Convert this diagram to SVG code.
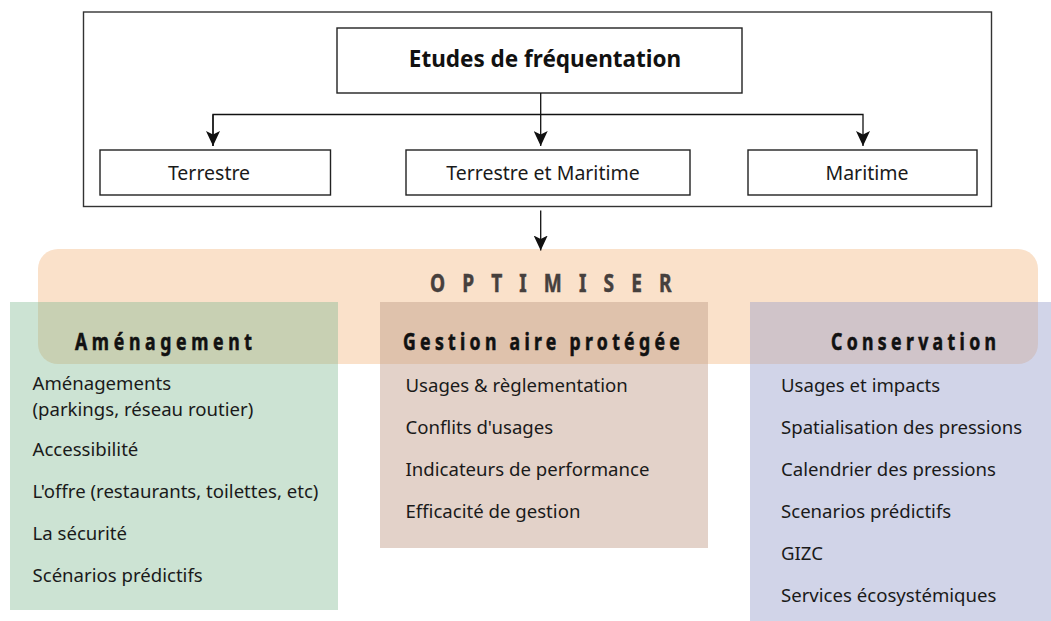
<svg xmlns="http://www.w3.org/2000/svg" width="1051" height="621" viewBox="0 0 1051 621">
  <defs>
    <style>
      .box { fill: #ffffff; stroke: #222222; stroke-width: 1.4; }
      .frame { fill: #ffffff; stroke: #333333; stroke-width: 1.4; }
      .conn { fill: none; stroke: #111111; stroke-width: 1.3; }
      .title { font-family: "Noto Sans", "Open Sans", sans-serif; font-weight: bold; font-size: 22.5px; fill: #111111; }
      .lbl { font-family: "Noto Sans", "Open Sans", sans-serif; font-size: 19.5px; fill: #1a1a1a; }
      .item { font-family: "Noto Sans", "Open Sans", sans-serif; font-size: 18.6px; fill: #1a1a1a; }
      .head { font-family: "Noto Sans", "Open Sans", sans-serif; font-weight: bold; font-size: 23.5px; fill: #111111; stroke: #111111; stroke-width: 0.6; }
      .opt { font-family: "Noto Sans", "Open Sans", sans-serif; font-weight: bold; font-size: 25.5px; fill: #46403d; stroke: #46403d; stroke-width: 0.5; }
    </style>
    <marker id="arrow" viewBox="0 0 15 14" refX="15" refY="7" markerWidth="15" markerHeight="14" markerUnits="userSpaceOnUse" orient="auto">
      <path d="M0,0 L15,7 L0,14 L3.5,7 Z" fill="#111111"/>
    </marker>
    <clipPath id="bandClip">
      <rect x="38" y="249" width="1000" height="115" rx="20" ry="20"/>
    </clipPath>
  </defs>

  <g id="frame">
    <rect class="frame" x="83.5" y="12" width="908" height="194.5"/>
  </g>

  <g id="node-etudes">
    <rect class="box" x="337" y="28" width="405" height="65"/>
    <text class="title" x="545" y="67" text-anchor="middle">Etudes de fréquentation</text>
  </g>
  <g id="node-terrestre">
    <rect class="box" x="100" y="150" width="230.5" height="45"/>
    <text class="lbl" x="209" y="180" text-anchor="middle">Terrestre</text>
  </g>
  <g id="node-terrestre-maritime">
    <rect class="box" x="406" y="150" width="284" height="45"/>
    <text class="lbl" x="543" y="180" text-anchor="middle">Terrestre et Maritime</text>
  </g>
  <g id="node-maritime">
    <rect class="box" x="748" y="150" width="229" height="45"/>
    <text class="lbl" x="867" y="180" text-anchor="middle">Maritime</text>
  </g>

  <g id="optimiser">
    <rect x="38" y="249" width="1000" height="115" rx="20" ry="20" fill="#fae1ca"/>
    <text class="opt" transform="translate(430,292) scale(0.75,1)" textLength="322" lengthAdjust="spacing">OPTIMISER</text>
  </g>

  <g id="amenagement">
    <rect x="10" y="302" width="328" height="308" fill="#cce3d3"/>
    <rect x="10" y="302" width="328" height="308" fill="#c8d0b3" clip-path="url(#bandClip)"/>
    <text class="head" transform="translate(75,350) scale(0.75,1)" textLength="236" lengthAdjust="spacing">Aménagement</text>
    <text class="item" x="32.5" y="390">Aménagements</text>
    <text class="item" x="32.5" y="415.5">(parkings, réseau routier)</text>
    <text class="item" x="32.5" y="456">Accessibilité</text>
    <text class="item" x="32.5" y="498">L'offre (restaurants, toilettes, etc)</text>
    <text class="item" x="32.5" y="540">La sécurité</text>
    <text class="item" x="32.5" y="582">Scénarios prédictifs</text>
  </g>

  <g id="gestion">
    <rect x="380" y="302" width="328" height="246" fill="#e3d2c9"/>
    <rect x="380" y="302" width="328" height="246" fill="#dfc2ac" clip-path="url(#bandClip)"/>
    <text class="head" transform="translate(403,350) scale(0.75,1)" textLength="369" lengthAdjust="spacing">Gestion aire protégée</text>
    <text class="item" x="405.5" y="392">Usages &amp; règlementation</text>
    <text class="item" x="405.5" y="434">Conflits d'usages</text>
    <text class="item" x="405.5" y="476">Indicateurs de performance</text>
    <text class="item" x="405.5" y="518">Efficacité de gestion</text>
  </g>

  <g id="conservation">
    <rect x="750" y="302" width="301" height="319" fill="#d1d4e8"/>
    <rect x="750" y="302" width="301" height="319" fill="#d0c4c9" clip-path="url(#bandClip)"/>
    <text class="head" transform="translate(831,350) scale(0.75,1)" textLength="220" lengthAdjust="spacing">Conservation</text>
    <text class="item" x="781" y="392">Usages et impacts</text>
    <text class="item" x="781" y="434">Spatialisation des pressions</text>
    <text class="item" x="781" y="476">Calendrier des pressions</text>
    <text class="item" x="781" y="518">Scenarios prédictifs</text>
    <text class="item" x="781" y="560">GIZC</text>
    <text class="item" x="781" y="602">Services écosystémiques</text>
  </g>

  <g id="connectors">
    <line class="conn" x1="540.7" y1="93" x2="540.7" y2="146" marker-end="url(#arrow)"/>
    <polyline class="conn" points="213,146 213,114.5 863,114.5 863,146" marker-end="url(#arrow)"/>
    <line class="conn" x1="213" y1="114.5" x2="213" y2="146" marker-end="url(#arrow)"/>
    <line class="conn" x1="540.7" y1="210.5" x2="540.7" y2="250.5" marker-end="url(#arrow)"/>
  </g>
</svg>
